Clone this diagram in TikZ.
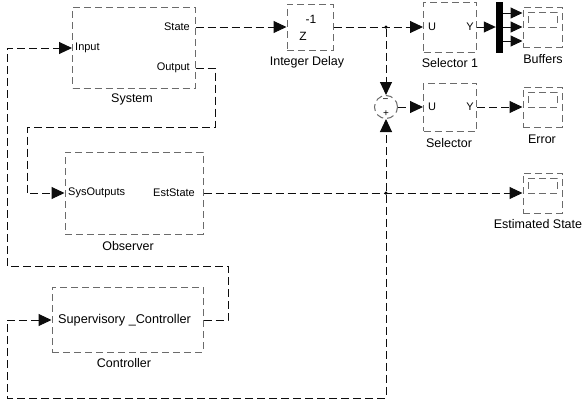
\documentclass[tikz,border=0pt]{standalone}
\usepackage{fontspec}
\setmainfont{Liberation Sans}
\usetikzlibrary{arrows.meta,calc}
\definecolor{boxgray}{gray}{0.42}
\definecolor{linegray}{gray}{0.05}
\begin{document}
\begin{tikzpicture}[x=1pt,y=-1pt,
  blk/.style={draw=boxgray, dash pattern=on 7pt off 4pt, line width=1pt, rectangle, inner sep=0pt},
  conn/.style={draw=linegray, dash pattern=on 8pt off 4pt, line width=1pt},
  arr/.style={conn, -{Triangle[length=13pt,width=12pt]}},
  sarr/.style={conn, -{Triangle[length=12pt,width=11pt]}},
  lbl/.style={font=\fontsize{12.5}{14}\selectfont, inner sep=0pt},
  prt/.style={font=\fontsize{11}{13}\selectfont, inner sep=0pt},
  jdot/.style={circle, fill=black, inner sep=0pt, minimum size=3.5pt}]
\useasboundingbox (0,0) rectangle (582,408);

% blocks
\node[blk, minimum width=122.5pt, minimum height=81pt] (sys) at (133.75,47.5) {};
\node[blk, minimum width=46pt, minimum height=46pt] (dly) at (310,27) {};
\node[blk, minimum width=53pt, minimum height=50pt] (sel1) at (450,27) {};
\node[rectangle, fill=black, inner sep=0pt, minimum width=7pt, minimum height=51pt] (bar) at (499.5,27.5) {};
\node[blk, minimum width=39pt, minimum height=40pt] (buf) at (542.5,27) {};
\node[blk, minimum width=29pt, minimum height=15pt] (bufi) at (542.5,19.5) {};
\node[blk, circle, minimum size=23pt] (sum) at (386,107) {};
\node[blk, minimum width=53pt, minimum height=48pt] (sel) at (450,107) {};
\node[blk, minimum width=39pt, minimum height=40pt] (err) at (542.5,107) {};
\node[blk, minimum width=29pt, minimum height=15pt] (erri) at (542.5,99.5) {};
\node[blk, minimum width=39pt, minimum height=40pt] (est) at (542.5,193) {};
\node[blk, minimum width=29pt, minimum height=15pt] (esti) at (542.5,185.5) {};
\node[blk, minimum width=138pt, minimum height=82pt] (obs) at (134,193) {};
\node[blk, minimum width=151pt, minimum height=65pt] (ctl) at (127.5,319.5) {};

% port texts
\node[prt, anchor=west] (tIn) at (75,48) {Input};
\node[prt, anchor=east] (tState) at (190,27) {State};
\node[prt, anchor=east] (tOut) at (190,68) {Output};
\node[prt, font=\fontsize{12}{14}\selectfont] (tm1) at (311,19) {-1};
\node[prt, font=\fontsize{12}{14}\selectfont] (tz) at (303,36) {Z};
\node[prt, anchor=west] (tU1) at (428,27) {U};
\node[prt, anchor=east] (tY1) at (474,27) {Y};
\node[prt, anchor=west] (tU2) at (428,107) {U};
\node[prt, anchor=east] (tY2) at (474,107) {Y};
\node[prt, font=\fontsize{10}{12}\selectfont] (tminus) at (385.5,101) {−};
\node[prt, font=\fontsize{10}{12}\selectfont] (tplus) at (386,113.5) {+};
\node[prt, anchor=west] (tSysO) at (68,193) {SysOutputs};
\node[prt, anchor=east] (tEst) at (195,193) {EstState};
\node[prt, anchor=west, font=\fontsize{12.7}{14}\selectfont] (tSup) at (58,320) {Supervisory \_Controller};

% block labels
\node[lbl] (lSys) at (132,99) {System};
\node[lbl] (lDly) at (307,62) {Integer Delay};
\node[lbl] (lSel1) at (450,63) {Selector 1};
\node[lbl] (lBuf) at (543,59) {Buffers};
\node[lbl] (lSel) at (449,143) {Selector};
\node[lbl] (lErr) at (542,139) {Error};
\node[lbl] (lEst) at (538,224) {Estimated State};
\node[lbl] (lObs) at (128,246) {Observer};
\node[lbl] (lCtl) at (124,363) {Controller};

% port coordinates
\coordinate (sysIn) at (sys.west |- 0,48);
\coordinate (sysState) at (sys.east |- 0,27);
\coordinate (sysOut) at (sys.east |- 0,68);
\coordinate (obsIn) at (obs.west |- 0,193);
\coordinate (obsOut) at (obs.east |- 0,193);
\coordinate (ctlIn) at (ctl.west |- 0,320);
\coordinate (ctlOut) at (ctl.east |- 0,320);

\node[jdot] (j1) at (386,27) {};
\node[jdot] (j2) at (386,193) {};

% connectors
\draw[arr] (sysState) -- (dly.west);
\draw[arr] (dly.east) -- (sel1.west);
\draw[arr] (j1) -- (sum.north);
\draw[arr] (sum.east) -- (sel.west);
\draw[arr] (sel.east) -- (err.west);
\draw[sarr] (sel1.east) -- (bar.west |- sel1.east);
\draw[sarr] (bar.east |- 0,13) -- (buf.west |- 0,13);
\draw[sarr] (bar.east |- 0,27) -- (buf.west |- 0,27);
\draw[sarr] (bar.east |- 0,41) -- (buf.west |- 0,41);
\draw[arr] (sysOut) -- (215,68) -- (215,127) -- (27,127) -- (27,193) -- (obsIn);
\draw[arr] (obsOut) -- (est.west);
\draw[arr] (j2) -- (sum.south);
\draw[arr] (j2) -- (386,398) -- (7,398) -- (7,320) -- (ctlIn);
\draw[arr] (ctlOut) -- (228,320) -- (228,266) -- (7,266) -- (7,48) -- (sysIn);
\end{tikzpicture}
\end{document}
